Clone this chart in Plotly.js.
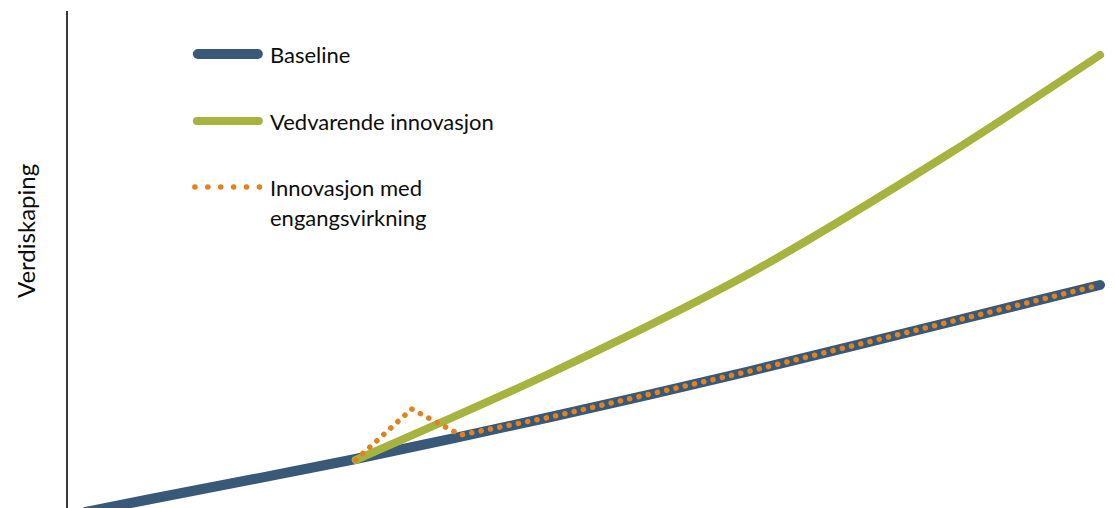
<!DOCTYPE html>
<html>
<head>
<meta charset="utf-8">
<script src="https://cdn.plot.ly/plotly-3.0.1.min.js"></script>
<style>
  html, body { margin: 0; padding: 0; background: #fff; }
  #chart { width: 1115px; height: 508px; }
</style>
</head>
<body>
<div id="chart"></div>
<script>
// values (arbitrary units, x = time, y = value creation)
var baseline_x = [18, 83, 283, 483, 683, 883, 1033];
var baseline_y = [-4, 9, 48, 91, 137, 186, 223];

var lasting_x = [288, 483, 683, 883, 1033];
var lasting_y = [48, 135, 235, 355, 453];

var oneoff_x = [288, 344, 393, 483, 683, 883, 1033];
var oneoff_y = [48, 99, 73, 91, 137, 186, 223];

var labels = ['Baseline', 'Vedvarende innovasjon', 'Innovasjon med', 'engangsvirkning'];
var y_title = 'Verdiskaping';

var blue = '#3a5877';
var green = '#a6b43f';
var orange = '#e0821e';
var font = 'Lato, "Open Sans", sans-serif';

var baseline = {
    x: baseline_x,
    y: baseline_y,
    mode: 'lines',
    line: {color: blue, width: 10, shape: 'spline', smoothing: 0.8},
    hoverinfo: 'skip'
};

var lasting = {
    x: lasting_x,
    y: lasting_y,
    mode: 'lines',
    line: {color: green, width: 8, shape: 'spline', smoothing: 0.8},
    hoverinfo: 'skip'
};

var oneoff = {
    x: oneoff_x,
    y: oneoff_y,
    mode: 'lines',
    line: {color: orange, width: 5.5, dash: '0.1px,9.4px'},
    hoverinfo: 'skip'
};

// hand-made legend (long line samples like the original)
function px(v) { return (v - 67) / 1048; }
function py(v) { return (508 - v) / 497; }

var txt = {family: font, size: 22, color: '#0d0d0d'};

var layout = {
    width: 1115,
    height: 508,
    showlegend: false,
    paper_bgcolor: '#fff',
    plot_bgcolor: '#fff',
    margin: {l: 68, r: 0, t: 11, b: 0},
    xaxis: {
        range: [0, 1048],
        visible: false,
        fixedrange: true
    },
    yaxis: {
        range: [0, 497],
        showline: true,
        linecolor: '#3a3a3a',
        linewidth: 2,
        showgrid: false,
        zeroline: false,
        showticklabels: false,
        ticks: '',
        fixedrange: true
    },
    shapes: [
        {type: 'line', xref: 'paper', yref: 'paper', x0: px(197), x1: px(257), y0: py(54), y1: py(54),
         line: {color: blue, width: 10}},
        {type: 'line', xref: 'paper', yref: 'paper', x0: px(196), x1: px(258), y0: py(121), y1: py(121),
         line: {color: green, width: 8}},
        {type: 'line', xref: 'paper', yref: 'paper', x0: px(194), x1: px(259), y0: py(187), y1: py(187),
         line: {color: orange, width: 5.5, dash: '0.1px,12.8px'}}
    ],
    annotations: [
        {text: labels[0], xref: 'paper', yref: 'paper', x: px(267), y: py(54), xanchor: 'left', yanchor: 'middle',
         showarrow: false, font: txt},
        {text: labels[1], xref: 'paper', yref: 'paper', x: px(267), y: py(121), xanchor: 'left', yanchor: 'middle',
         showarrow: false, font: txt},
        {text: labels[2], xref: 'paper', yref: 'paper', x: px(267), y: py(187), xanchor: 'left', yanchor: 'middle',
         showarrow: false, font: txt},
        {text: labels[3], xref: 'paper', yref: 'paper', x: px(267), y: py(218), xanchor: 'left', yanchor: 'middle',
         showarrow: false, font: txt},
        {text: y_title, xref: 'paper', yref: 'paper', x: px(24), y: py(231), xanchor: 'center', yanchor: 'middle',
         textangle: -90, showarrow: false, font: {family: font, size: 24, color: '#0d0d0d'}}
    ]
};

Plotly.newPlot('chart', [baseline, lasting, oneoff], layout, {displayModeBar: false, staticPlot: true})
    .then(function (gd) {
        // round caps so the dotted line shows round dots and line ends are rounded
        var paths = gd.querySelectorAll('.scatterlayer path.js-line, .shapelayer path');
        paths.forEach(function (p) {
            p.style.strokeLinecap = 'round';
            p.style.strokeLinejoin = 'round';
        });
    });
</script>
</body>
</html>
